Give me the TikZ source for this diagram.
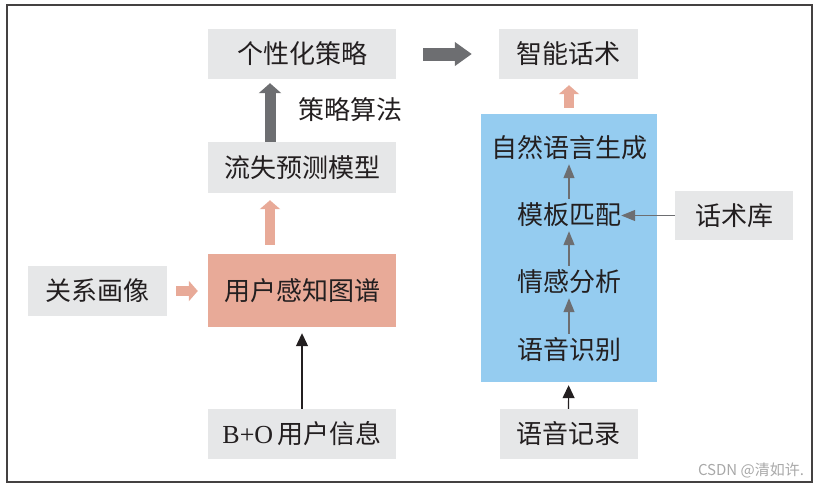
\documentclass[tikz,border=0pt]{standalone}
\usepackage{fontspec}
\setmainfont{Liberation Serif}
\newfontfamily\cjk{Noto Sans CJK SC}
\usetikzlibrary{arrows.meta}
\definecolor{boxgray}{HTML}{E6E7E8}
\definecolor{boxpink}{HTML}{E8AA98}
\definecolor{skyblue}{HTML}{95CCF0}
\definecolor{arrowgray}{HTML}{6D6E71}
\definecolor{inkblack}{HTML}{231F20}
\definecolor{markgray}{HTML}{A8A8A8}
\newcommand{\bigcjk}{\cjk\fontsize{26}{26}\selectfont}

\begin{document}
\begin{tikzpicture}[x=1pt,y=-1pt,
    box/.style={fill=boxgray,minimum height=50pt,inner sep=0pt,font=\bigcjk,text=inkblack},
    stage/.style={inner sep=0pt,minimum height=32pt,font=\bigcjk,text=inkblack},
    bigblock/.style={draw=arrowgray,line width=13pt,-{Triangle[width=23pt,length=17pt]}},
    grayblock/.style={draw=arrowgray,line width=11pt,-{Triangle[width=22pt,length=10pt]}},
    pinkblock/.style={draw=boxpink,line width=10.5pt,-{Triangle[width=20pt,length=9pt]}},
    stagearrow/.style={draw=arrowgray,line width=1.2pt,-{Triangle[width=11pt,length=14pt]}},
    feedarrow/.style={draw=inkblack,line width=1.2pt,-{Triangle[width=12pt,length=13pt]}}]
    \useasboundingbox (0,0) rectangle (821,491);
    %frame
    \draw [line width=1.5pt,draw=inkblack!85] (7,5) rectangle (812,482);
    %left column
    \node [box,minimum width=188pt] (strat) at (302,54) {个性化策略};
    \node [box,minimum width=188pt,minimum height=51pt] (churn) at (302,167.5) {流失预测模型};
    \node [box,fill=boxpink,minimum width=188pt,minimum height=73pt] (graph) at (302,290.5) {用户感知图谱};
    \node [box,minimum width=139pt] (rel) at (97.5,291) {关系画像};
    \node [box,minimum width=188pt] (bo) at (302,434) {{\rmfamily B+O\,}用户信息};
    \node [font=\bigcjk,text=inkblack] (algo) at (350,110) {策略算法};
    %right column
    \node [box,minimum width=139pt] (talk) at (568.5,54) {智能话术};
    \node [fill=skyblue,minimum width=176pt,minimum height=268pt,inner sep=0pt] (engine) at (569,248) {};
    \node [stage] (nlg) at (569,148) {自然语言生成};
    \node [stage] (tmpl) at (569,215) {模板匹配};
    \node [stage] (emo) at (569,282) {情感分析};
    \node [stage] (asr) at (569,350) {语音识别};
    \node [box,minimum width=118pt,minimum height=49pt] (lib) at (734,215.5) {话术库};
    \node [box,minimum width=138pt] (rec) at (568.5,434) {语音记录};
    %block arrows
    \draw [bigblock,shorten <=27pt,shorten >=27pt] (strat) -- (talk);
    \draw [grayblock,shorten >=4pt] ([xshift=-32pt]churn.north) -- ([xshift=-32pt]strat.south);
    \draw [pinkblock,shorten <=9pt,shorten >=7pt] ([xshift=-32pt]graph.north) -- ([xshift=-32pt]churn.south);
    \draw [pinkblock,shorten <=9pt,shorten >=10pt] (rel.east) -- (rel.east -| graph.west);
    \draw [pinkblock,shorten <=6pt,shorten >=6pt] (engine.north) -- (engine.north |- talk.south);
    %thin arrows
    \draw [feedarrow,shorten >=6pt] (bo) -- (graph);
    \draw [feedarrow,shorten >=3pt] (rec) -- (engine);
    \draw [stagearrow] (asr) -- (emo);
    \draw [stagearrow] (emo) -- (tmpl);
    \draw [stagearrow] (tmpl) -- (nlg);
    \draw [stagearrow] (lib.west) -- (lib.west -| tmpl.east);
    %watermark
    \node [font=\cjk\fontsize{15}{15}\selectfont,text=markgray] (mark) at (751,470) {CSDN @清如许.};
\end{tikzpicture}
\end{document}
